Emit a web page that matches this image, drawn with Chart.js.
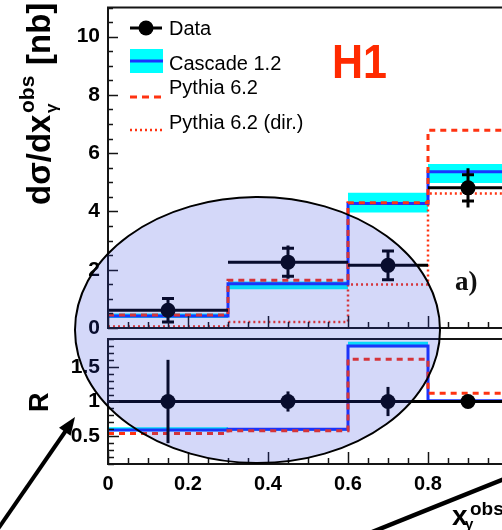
<!DOCTYPE html>
<html><head><meta charset="utf-8">
<script src="https://cdn.jsdelivr.net/npm/chart.js@4.4.1/dist/chart.umd.min.js"></script>
<style>
html,body{margin:0;padding:0;background:#fff;}
#wrap{position:relative;width:502px;height:530px;overflow:hidden;background:#fff;}
#c1{position:absolute;left:0;top:0;}
#c2{position:absolute;left:0;top:330px;}
#ov{position:absolute;left:0;top:0;}
</style></head><body>
<div id="wrap">
<canvas id="c1" width="520" height="340"></canvas>
<canvas id="c2" width="520" height="200"></canvas>
<svg id="ov" width="502" height="530" xmlns="http://www.w3.org/2000/svg" font-family="'Liberation Sans', Arial, Helvetica, sans-serif">
  <!-- legend symbols -->
  <line x1="130" y1="28" x2="162" y2="28" stroke="#000" stroke-width="3"/>
  <circle cx="146" cy="28" r="7.5" fill="#000"/>
  <rect x="130" y="49" width="33" height="24" fill="#00ffff"/>
  <line x1="130" y1="61" x2="163" y2="61" stroke="#1a33ff" stroke-width="3"/>
  <line x1="130" y1="97" x2="163" y2="97" stroke="#ff3311" stroke-width="3" stroke-dasharray="7,5"/>
  <line x1="130" y1="130" x2="163" y2="130" stroke="#ff3311" stroke-width="2.5" stroke-dasharray="2,3"/>
  <!-- legend texts -->
  <text x="169" y="35" font-size="20">Data</text>
  <text x="169" y="70" font-size="20">Cascade 1.2</text>
  <text x="169" y="94" font-size="20">Pythia 6.2</text>
  <text x="169" y="129" font-size="20">Pythia 6.2 (dir.)</text>
  <!-- H1 -->
  <text x="332" y="78" font-size="49" font-weight="bold" fill="#ff2a00" textLength="55" lengthAdjust="spacingAndGlyphs">H1</text>
  <!-- a) -->
  <text x="455" y="290" font-family="'Liberation Serif', 'Times New Roman', serif" font-size="27" font-weight="bold" fill="#111">a)</text>
  <!-- y axis title -->
  <g transform="translate(50,205) rotate(-90)" font-weight="bold" fill="#000">
    <text x="0" y="0" font-size="33">dσ/dx</text>
    <text x="92" y="-16" font-size="21">obs</text>
    <text x="92" y="7" font-size="17">γ</text>
    <text x="140" y="0" font-size="33">[nb]</text>
  </g>
  <!-- R title -->
  <g transform="translate(48,412) rotate(-90)" font-weight="bold" fill="#000">
    <text x="0" y="0" font-size="27">R</text>
  </g>
  <!-- x axis title -->
  <g font-weight="bold" fill="#000">
    <text x="452" y="525" font-size="28">x</text>
    <text x="470" y="515" font-size="19">obs</text>
    <text x="465" y="529" font-size="15">γ</text>
  </g>
  <!-- ellipse overlay -->
  <ellipse cx="257.5" cy="330" rx="182.5" ry="133" fill="rgba(40,60,225,0.2)" stroke="#000" stroke-width="2"/>
  <!-- arrows -->
  <line x1="-2" y1="529" x2="67" y2="429" stroke="#000" stroke-width="4"/>
  <polygon points="75,417 70.6,435.8 59,427.8" fill="#000"/>
  <line x1="372" y1="532" x2="504" y2="479" stroke="#000" stroke-width="4.5"/>
</svg>
</div>
<script>
// ---------- data ----------
const binEdges = [0, 0.3, 0.6, 0.8, 1.0];
const binCenters = [0.15, 0.45, 0.7, 0.9];
const dataValues = [0.61, 2.26, 2.15, 4.81];
const dataStatErr = [0.40, 0.48, 0.49, 0.45];
const dataTotErr = [0.42, 0.57, 0.53, 0.67];
const cascadeValues = [0.41, 1.52, 4.27, 5.36];
const cascadeLow = [0.34, 1.33, 3.96, 4.98];
const cascadeHigh = [0.50, 1.60, 4.64, 5.63];
const pythiaValues = [0.45, 1.64, 4.30, 6.79];
const pythiaDirValues = [0.05, 0.21, 1.49, 4.62];
const ratioData = [1, 1, 1, 1];
const ratioErr = [0.60, 0.145, 0.21, 0.08];
const ratioCascade = [0.59, 0.60, 1.80, 1.01];
const ratioCascadeLow = [0.57, 0.58, 1.78, 0.98];
const ratioCascadeHigh = [0.63, 0.62, 1.86, 1.02];
const ratioPythia = [0.54, 0.58, 1.61, 1.12];
const xTickValues = [0, 0.2, 0.4, 0.6, 0.8];
const xTickLabels = ['0', '0.2', '0.4', '0.6', '0.8'];
const yTickValues = [0, 2, 4, 6, 8, 10];
const yTickLabels = ['0', '2', '4', '6', '8', '10'];
const rTickValues = [0.5, 1, 1.5];
const rTickLabels = ['0.5', '1', '1.5'];

const RED = '#ff3311', BLUE = '#1a33ff', CYAN = '#00ffff';
const FONT = "'Liberation Sans', Arial, Helvetica, sans-serif";

function stepPoints(vals) {
  return binEdges.map((x, i) => ({x: x, y: vals[Math.min(i, vals.length - 1)]}));
}
function binSegments(vals) {
  const pts = [];
  vals.forEach((v, i) => {
    pts.push({x: binEdges[i], y: v}, {x: binEdges[i + 1], y: v}, {x: binEdges[i + 1], y: null});
  });
  return pts;
}
function datasetsFor(values, central, lo, hi, pyth, pythDir) {
  const ds = [
    {label: 'Data', data: binSegments(values), borderColor: '#000', borderWidth: 3, pointRadius: 0, spanGaps: false, order: 0},
    {label: 'Data points', type: 'scatter', data: binCenters.map((x, i) => ({x: x, y: values[i]})), pointRadius: 7.5, pointBackgroundColor: '#000', pointBorderWidth: 0, borderWidth: 0, showLine: false, order: 0},
    {label: 'Pythia 6.2', data: stepPoints(pyth), stepped: 'before', borderColor: RED, borderWidth: 3, borderDash: [6, 5], pointRadius: 0, order: 1},
    {label: 'Cascade 1.2', data: stepPoints(central), stepped: 'before', borderColor: BLUE, borderWidth: 3, pointRadius: 0, order: 2},
    {label: 'Cascade band high', data: stepPoints(hi), stepped: 'before', borderWidth: 0, borderColor: 'rgba(0,0,0,0)', backgroundColor: CYAN, fill: '+1', pointRadius: 0, order: 5},
    {label: 'Cascade band low', data: stepPoints(lo), stepped: 'before', borderWidth: 0, borderColor: 'rgba(0,0,0,0)', fill: false, pointRadius: 0, order: 6}
  ];
  if (pythDir) {
    ds.push({label: 'Pythia 6.2 (dir.)', data: stepPoints(pythDir), stepped: 'before', borderColor: RED, borderWidth: 2.5, borderDash: [2, 3], pointRadius: 0, order: 3});
  }
  return ds;
}

function framePlugin(cfg) {
  return {
    id: 'frame',
    afterDraw(chart) {
      const {ctx, chartArea: a, scales} = chart;
      const x = scales.x, y = scales.y;
      ctx.save();
      ctx.strokeStyle = '#151515';
      ctx.lineWidth = 2;
      ctx.beginPath();
      ctx.moveTo(a.right + 10, a.top); ctx.lineTo(a.left, a.top);
      ctx.lineTo(a.left, a.bottom); ctx.lineTo(a.right + 10, a.bottom);
      ctx.stroke();
      ctx.lineWidth = 1.5;
      ctx.beginPath();
      const ny = Math.round((y.max - y.min) / cfg.yMinor);
      for (let i = 0; i <= ny; i++) {
        const v = y.min + i * cfg.yMinor;
        const r = v / cfg.yMajor;
        const major = Math.abs(r - Math.round(r)) < 1e-6;
        const p = Math.round(y.getPixelForValue(v)) + 0.5;
        ctx.moveTo(a.left, p); ctx.lineTo(a.left + (major ? cfg.yMajLen : cfg.yMinLen), p);
      }
      const nx = Math.round((x.max - x.min) / cfg.xMinor);
      for (let i = 0; i <= nx; i++) {
        const v = x.min + i * cfg.xMinor;
        const r = v / cfg.xMajor;
        const major = Math.abs(r - Math.round(r)) < 1e-6;
        const p = Math.round(x.getPixelForValue(v)) + 0.5;
        ctx.moveTo(p, a.bottom); ctx.lineTo(p, a.bottom - (major ? cfg.xMajLen : cfg.xMinLen));
      }
      ctx.stroke();
      ctx.restore();
    }
  };
}

function errPlugin(values, tot, stat) {
  return {
    id: 'errbars',
    afterDatasetsDraw(chart) {
      const {ctx, scales: {x, y}} = chart;
      ctx.save();
      ctx.strokeStyle = '#000';
      ctx.lineWidth = 3;
      binCenters.forEach((c, i) => {
        const px = x.getPixelForValue(c);
        const v = values[i];
        ctx.beginPath();
        ctx.moveTo(px, y.getPixelForValue(v + tot[i]));
        ctx.lineTo(px, y.getPixelForValue(v - tot[i]));
        if (stat) {
          const p1 = y.getPixelForValue(v + stat[i]), p2 = y.getPixelForValue(v - stat[i]);
          ctx.moveTo(px - 6, p1); ctx.lineTo(px + 6, p1);
          ctx.moveTo(px - 6, p2); ctx.lineTo(px + 6, p2);
        }
        ctx.stroke();
      });
      ctx.restore();
    }
  };
}

const tickFont = {family: FONT, size: 21, weight: 'bold'};

// ---------- top panel ----------
new Chart(document.getElementById('c1'), {
  type: 'line',
  data: {datasets: datasetsFor(dataValues, cascadeValues, cascadeLow, cascadeHigh, pythiaValues, pythiaDirValues)},
  options: {
    responsive: false, animation: false, devicePixelRatio: 1,
    layout: {padding: {left: 0, right: 12, top: 6, bottom: 12}},
    plugins: {legend: {display: false}, tooltip: {enabled: false}},
    scales: {
      x: {type: 'linear', min: 0, max: 1, display: false},
      y: {
        type: 'linear', min: 0, max: 11,
        afterBuildTicks(s) { s.ticks = yTickValues.map(v => ({value: v})); },
        afterFit(s) { s.width = 108; s.paddingTop = 0; s.paddingBottom = 0; },
        ticks: {callback: (v) => yTickLabels[yTickValues.indexOf(v)], font: tickFont, color: '#000', padding: 8},
        grid: {display: false, drawTicks: false},
        border: {display: false}
      }
    }
  },
  plugins: [framePlugin({yMinor: 0.5, yMajor: 2, yMajLen: 10, yMinLen: 5, xMinor: 0.05, xMajor: 0.2, xMajLen: 12, xMinLen: 6}),
            errPlugin(dataValues, dataTotErr, dataStatErr)]
});

// ---------- ratio panel ----------
new Chart(document.getElementById('c2'), {
  type: 'line',
  data: {datasets: datasetsFor(ratioData, ratioCascade, ratioCascadeLow, ratioCascadeHigh, ratioPythia, null)},
  options: {
    responsive: false, animation: false, devicePixelRatio: 1,
    layout: {padding: {left: 0, right: 12, top: 9, bottom: 0}},
    plugins: {legend: {display: false}, tooltip: {enabled: false}},
    scales: {
      x: {
        type: 'linear', min: 0, max: 1, position: 'bottom',
        afterBuildTicks(s) { s.ticks = xTickValues.map(v => ({value: v})); },
        afterFit(s) { s.height = 66; s.paddingLeft = 0; s.paddingRight = 0; },
        ticks: {callback: (v) => xTickLabels[xTickValues.indexOf(v)], font: {family: FONT, size: 20, weight: 'bold'}, color: '#000', padding: 8, maxRotation: 0, autoSkip: false},
        grid: {display: false, drawTicks: false},
        border: {display: false}
      },
      y: {
        type: 'linear', min: 0.1, max: 1.9,
        afterBuildTicks(s) { s.ticks = rTickValues.map(v => ({value: v})); },
        afterFit(s) { s.width = 108; s.paddingTop = 0; s.paddingBottom = 0; },
        ticks: {callback: (v) => rTickLabels[rTickValues.indexOf(v)], font: tickFont, color: '#000', padding: 8},
        grid: {display: false, drawTicks: false},
        border: {display: false}
      }
    }
  },
  plugins: [framePlugin({yMinor: 0.1, yMajor: 0.5, yMajLen: 11, yMinLen: 6, xMinor: 0.05, xMajor: 0.2, xMajLen: 12, xMinLen: 6}),
            errPlugin(ratioData, ratioErr, null)]
});
</script>
</body></html>
